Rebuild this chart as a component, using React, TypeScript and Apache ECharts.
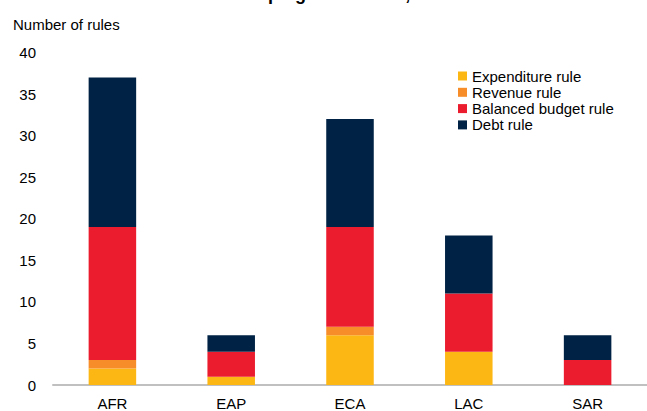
import React, { useEffect, useRef } from "react";
import * as echarts from "echarts";

const categories = ["AFR", "EAP", "ECA", "LAC", "SAR"];
const expenditureRule = [2, 1, 6, 4, 0];
const revenueRule = [1, 0, 1, 0, 0];
const balancedBudgetRule = [16, 3, 12, 7, 3];
const debtRule = [18, 2, 13, 7, 3];
const yTicks = { min: 0, max: 40, interval: 5 };

const FONT = "'Liberation Sans', Arial, Helvetica, sans-serif";

export default function App() {
  const ref = useRef<HTMLDivElement>(null);
  useEffect(() => {
    if (!ref.current) return;
    const chart = echarts.init(ref.current, undefined, { renderer: "svg" });
    const mk = (name: string, data: number[], color: string) => ({
      name,
      type: "bar",
      stack: "total",
      barWidth: "40%",
      data,
      itemStyle: { color },
      emphasis: { disabled: true },
    });
    chart.setOption({
      animation: false,
      backgroundColor: "#ffffff",
      textStyle: { fontFamily: FONT },
      grid: { left: 53, top: 52.5, width: 600, height: 335.5, containLabel: false },
      graphic: [
        {
          type: "text",
          left: 44,
          top: -15,
          style: {
            text: "Fiscal rules across developing economies, 2021",
            font: `bold 18px ${FONT}`,
            fill: "#000000",
          },
        },
        {
          type: "text",
          left: 13,
          top: 17,
          style: {
            text: "Number of rules",
            font: `15px ${FONT}`,
            fill: "#000000",
          },
        },
      ],
      legend: {
        orient: "vertical",
        left: 458,
        top: 68.5,
        padding: 0,
        itemWidth: 9,
        itemHeight: 9,
        itemGap: 1.3,
        icon: "rect",
        textStyle: { fontSize: 15, lineHeight: 15, color: "#000000", fontFamily: FONT },
        data: ["Expenditure rule", "Revenue rule", "Balanced budget rule", "Debt rule"],
      },
      xAxis: {
        type: "category",
        data: categories,
        axisLine: { lineStyle: { color: "#c0c0c0", width: 2 } },
        axisTick: { show: false },
        axisLabel: { fontSize: 15, color: "#000000", margin: 11, fontFamily: FONT },
      },
      yAxis: {
        type: "value",
        min: yTicks.min,
        max: yTicks.max,
        interval: yTicks.interval,
        axisLine: { show: false },
        axisTick: { show: false },
        splitLine: { show: false },
        axisLabel: { fontSize: 15, color: "#000000", margin: 17, fontFamily: FONT },
      },
      series: [
        mk("Expenditure rule", expenditureRule, "#FDB714"),
        mk("Revenue rule", revenueRule, "#F78D28"),
        mk("Balanced budget rule", balancedBudgetRule, "#EB1C2D"),
        mk("Debt rule", debtRule, "#002244"),
      ],
    });
    return () => chart.dispose();
  }, []);
  return <div ref={ref} style={{ width: 647, height: 411, position: "absolute", left: 0, top: 0 }} />;
}
